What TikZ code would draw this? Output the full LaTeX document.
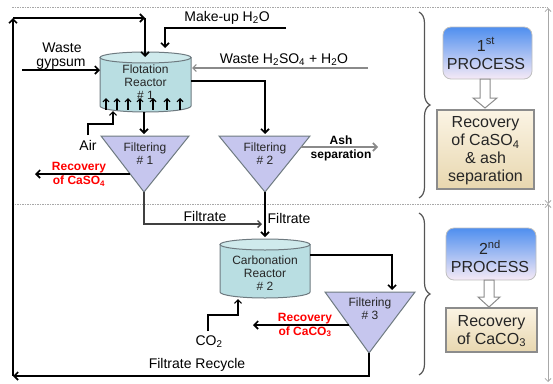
\documentclass[tikz,border=0pt]{standalone}
\usepackage{fontspec}
\setmainfont{Liberation Sans}
\usetikzlibrary{arrows.meta,decorations.pathreplacing}
\definecolor{reactfill}{HTML}{B9DEE2}
\definecolor{reacttop}{HTML}{CFEAEC}
\definecolor{filtfill}{HTML}{C6C6EE}
\definecolor{edgegray}{HTML}{6E7A80}
\definecolor{flowgray}{HTML}{8A8A8A}
\definecolor{dashgray}{HTML}{A8A8A8}
\definecolor{bracegray}{HTML}{555555}
\definecolor{boxedge}{HTML}{8C8C8C}
\definecolor{procblue}{HTML}{4F8FEF}
\definecolor{procpink}{HTML}{F6EAF6}
\definecolor{beigetop}{HTML}{FBF4E4}
\definecolor{beigebot}{HTML}{E8D7AF}
\definecolor{redtext}{HTML}{FF0000}
\begin{document}
\begin{tikzpicture}[x=1pt,y=-1pt,
  flow/.style={draw=black,line width=1.6pt,-{Straight Barb[length=4pt,width=8pt]}},
  thinflow/.style={draw=black,line width=1.2pt,-{Straight Barb[length=3.5pt,width=7pt]}},
  grayflow/.style={draw=flowgray,line width=1.6pt,-{Straight Barb[length=4pt,width=8pt]}},
  lightflow/.style={draw=flowgray,line width=1.1pt,-{Straight Barb[length=3.5pt,width=7pt]}},
  upflow/.style={draw=black,line width=1.1pt,-{Straight Barb[length=3pt,width=6pt]}},
  lbl/.style={font=\fontsize{14}{16}\selectfont,inner sep=0},
  inlbl/.style={font=\fontsize{12}{13}\selectfont,align=center,inner sep=0,text=black!85},
  redlbl/.style={font=\fontsize{12}{14}\selectfont\bfseries,align=center,inner sep=0,text=redtext},
  boldlbl/.style={font=\fontsize{12}{14}\selectfont\bfseries,align=center,inner sep=0},
  boxlbl/.style={font=\fontsize{16}{18}\selectfont,align=center,inner sep=0,text=black!85},
  reactor/.style={fill=reactfill,draw=edgegray,line width=1pt},
  filterbox/.style={fill=filtfill,draw=edgegray,line width=1pt},
  hollow/.style={fill=white,draw=boxedge,line width=1pt},
  bracestyle/.style={draw=bracegray,line width=1.2pt,decorate,decoration={brace,amplitude=11pt}},
  dimline/.style={draw=dashgray,line width=0.8pt,{Straight Barb[length=3pt,width=6pt]}-{Straight Barb[length=3pt,width=6pt]}},
  sepline/.style={draw=dashgray,line width=0.8pt,dash pattern=on 1.5pt off 1pt}
]
\useasboundingbox (0,0) rectangle (553,383);

% separators and dimension line
\draw[sepline] (12,7) -- (548,7);
\draw[sepline] (12,204) -- (548,204);
\coordinate (dimtop) at (548,8);
\coordinate (dimmid) at (548,204);
\coordinate (dimbot) at (548,382);
\draw[dimline] (dimtop) -- (dimmid);
\draw[dimline] (dimmid) -- (dimbot);

% Flotation reactor #1
\path[reactor] (100,57.5) -- (100,106) arc[start angle=180,end angle=360,x radius=45.5pt,y radius=6pt] -- (191,57.5) -- cycle;
\draw[fill=reacttop,draw=edgegray,line width=1pt] (145.5,57.5) ellipse[x radius=45.5pt,y radius=5.5pt];
\node[inlbl] (r1) at (145.5,82) {Flotation\\Reactor\\\# 1};
\foreach \xx in {106,117,128,140,153,167,180} {
  \coordinate (ua\xx) at (\xx,109.5);
  \coordinate (ub\xx) at (\xx,98);
  \draw[upflow] (ua\xx) -- (ub\xx);
}

% Carbonation reactor #2
\path[reactor] (220,244.5) -- (220,292) arc[start angle=180,end angle=360,x radius=45pt,y radius=6pt] -- (310,244.5) -- cycle;
\draw[fill=reacttop,draw=edgegray,line width=1pt] (265,244.5) ellipse[x radius=45pt,y radius=5.5pt];
\node[inlbl] (r2) at (265,273) {Carbonation\\Reactor\\\# 2};

% Filters
\draw[filterbox] (101,136) -- (189,136) -- (144,192) -- cycle;
\node[inlbl] (f1) at (145,153.5) {Filtering\\\# 1};
\draw[filterbox] (219,136) -- (310,136) -- (265,192) -- cycle;
\node[inlbl] (f2) at (265,153.5) {Filtering\\\# 2};
\draw[filterbox] (325,292) -- (415,292) -- (369,353) -- cycle;
\node[inlbl] (f3) at (370,308.5) {Filtering\\\# 3};

% labels
\node[lbl] (makeup) at (227,18) {Make-up H\textsubscript{2}O};
\node[lbl] (waste) at (62,48) {Waste};
\node[lbl] (gyp) at (61,64) {gypsum};
\node[lbl] (acid) at (284,60) {Waste H\textsubscript{2}SO\textsubscript{4} + H\textsubscript{2}O};
\node[lbl] (air) at (88,145) {Air};
\node[redlbl] (caso4) at (79,174) {Recovery\\of CaSO\textsubscript{4}};
\node[boldlbl] (ash) at (341,148) {Ash\\separation};
\node[lbl] (filt1) at (205,216) {Filtrate};
\node[lbl] (filt2) at (289,218) {Filtrate};
\node[redlbl] (caco3) at (305,325) {Recovery\\of CaCO\textsubscript{3}};
\node[lbl] (co2) at (209,342) {CO\textsubscript{2}};
\node[lbl] (recyc) at (197,365) {Filtrate Recycle};

% connector points
\coordinate (tl) at (13,18);
\coordinate (tr) at (145,18);
\coordinate (r1top) at (145,57);
\coordinate (bl) at (13,376);
\coordinate (f3apex) at (369,353);
\coordinate (f3low) at (369,376);
\coordinate (mu0) at (286,28);
\coordinate (mu1) at (165,28);
\coordinate (mu2) at (165,48);
\coordinate (wg0) at (22,70);
\coordinate (wg1) at (100,70);
\coordinate (ac0) at (368,68);
\coordinate (ac1) at (192,68);
\coordinate (r1right) at (191,81);
\coordinate (r1corner) at (265,81);
\coordinate (f2top) at (265,134);
\coordinate (r1bot) at (144,112);
\coordinate (f1top) at (144,134);
\coordinate (air0) at (88,135);
\coordinate (air1) at (88,124);
\coordinate (air2) at (113,124);
\coordinate (air3) at (113,111);
\coordinate (f1left) at (130,174);
\coordinate (caso4end) at (35,174);
\coordinate (f2right) at (301,147);
\coordinate (ashend) at (378,147);
\coordinate (f1apex) at (144,192);
\coordinate (f1low) at (144,224);
\coordinate (filtend) at (262,224);
\coordinate (f2apex) at (265,192);
\coordinate (r2top) at (265,237);
\coordinate (r2right) at (310,255);
\coordinate (r2corner) at (392,255);
\coordinate (f3top) at (392,290);
\coordinate (co2a) at (208,331);
\coordinate (co2b) at (208,315);
\coordinate (co2c) at (238,315);
\coordinate (r2bot) at (238,299);
\coordinate (f3left) at (349,325);
\coordinate (caco3end) at (253,325);

% connectors
\draw[flow] (bl) -- (tl);
\draw[flow] (tl) -- (tr);
\draw[flow] (tr) -- (r1top);
\draw[flow] (f3apex) -- (f3low) -- (bl);
\draw[flow] (mu0) -- (mu1) -- (mu2);
\draw[flow] (wg0) -- (wg1);
\draw[lightflow] (ac0) -- (ac1);
\draw[flow] (r1right) -- (r1corner) -- (f2top);
\draw[flow] (r1bot) -- (f1top);
\draw[thinflow] (air0) -- (air1) -- (air2) -- (air3);
\draw[flow] (f1left) -- (caso4end);
\draw[grayflow] (f2right) -- (ashend);
\draw[draw=black!75,line width=1.3pt,-{Straight Barb[length=3.5pt,width=7pt]}] (f1apex) -- (f1low) -- (filtend);
\draw[flow] (f2apex) -- (r2top);
\draw[flow] (r2right) -- (r2corner) -- (f3top);
\draw[thinflow] (co2a) -- (co2b) -- (co2c) -- (r2bot);
\draw[flow] (f3left) -- (caco3end);

% braces
\draw[bracestyle] (419,12) -- (419,198);
\draw[bracestyle] (419,213) -- (419,375);

% right side boxes
\shade[top color=procblue,bottom color=procpink,draw=black!25,line width=0.8pt,rounded corners=8pt] (443,27) rectangle (532,79);
\node[boxlbl] (p1) at (486,53.5) {1\textsuperscript{st}\\PROCESS};
\draw[hollow] (480,79) -- (490,79) -- (490,98) -- (497,98) -- (485,108) -- (473,98) -- (480,98) -- cycle;
\shade[top color=beigetop,bottom color=beigebot,draw=boxedge,line width=1.5pt] (437,110) rectangle (534,189);
\node[boxlbl] (rec1) at (485.5,151) {Recovery\\of CaSO\textsubscript{4}\\\& ash\\separation};

\shade[top color=procblue,bottom color=procpink,draw=black!25,line width=0.8pt,rounded corners=8pt] (446,228) rectangle (536,280);
\node[boxlbl] (p2) at (490,256.5) {2\textsuperscript{nd}\\PROCESS};
\draw[hollow] (484,280) -- (494,280) -- (494,297) -- (500,297) -- (489,307) -- (478,297) -- (484,297) -- cycle;
\shade[top color=beigetop,bottom color=beigebot,draw=boxedge,line width=1.5pt] (446,308) rectangle (537,352);
\node[boxlbl] (rec2) at (491.5,331) {Recovery\\of CaCO\textsubscript{3}};
\end{tikzpicture}
\end{document}
